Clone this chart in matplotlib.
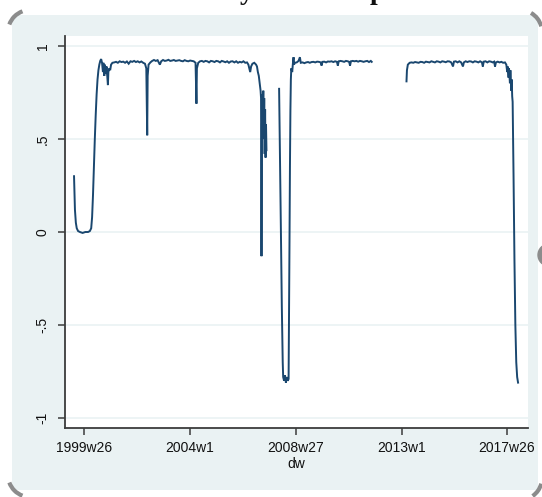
"""Weekly correlation series (Stata-style line plot, s2color look)."""
import matplotlib
matplotlib.use("Agg")
import matplotlib.pyplot as plt
import numpy as np
from matplotlib.patches import Arc, Circle, Rectangle

# Stata s2color palette
P = {
    "region": "#eaf2f3", "plot": "#ffffff", "grid": "#eaf2f3",
    "line": "#1a476f", "axis": "#3c3c3c", "ink": "#111111", "frame": "#8c8c8c",
}

# x = Stata weekly date (weeks since 1960w1); three runs separated by gaps
wk1 = [2031, 2032, 2033, 2035, 2037, 2040, 2044, 2050, 2056, 2062, 2066, 2069,
       2071, 2073, 2075, 2077, 2079, 2081, 2083, 2085, 2087, 2089, 2091, 2093,
       2095, 2096, 2098, 2099, 2101, 2103, 2105, 2106, 2107, 2109, 2111, 2113,
       2116, 2120, 2124, 2128, 2132, 2136, 2140, 2144, 2148, 2152, 2156, 2160,
       2164, 2168, 2172, 2176, 2180, 2184, 2188, 2191, 2193, 2194, 2196, 2200,
       2204, 2208, 2212, 2216, 2220, 2221, 2224, 2228, 2232, 2236, 2240, 2244,
       2248, 2252, 2256, 2260, 2264, 2268, 2272, 2276, 2280, 2284, 2288, 2292,
       2296, 2300, 2302, 2303, 2306, 2310, 2314, 2318, 2322, 2326, 2330, 2334,
       2338, 2342, 2346, 2350, 2354, 2358, 2362, 2366, 2370, 2374, 2378, 2382,
       2386, 2390, 2394, 2398, 2402, 2406, 2410, 2414, 2417, 2419, 2421, 2423,
       2426, 2430, 2434, 2436, 2438, 2440, 2442, 2444, 2445, 2446, 2447, 2448,
       2449, 2450, 2451, 2452, 2453, 2454, 2455, 2456, 2457]
r1 = [0.30, 0.20, 0.12, 0.05, 0.02, 0.005, 0.0, -0.005, 0.0, 0.0, 0.005, 0.02,
      0.08, 0.20, 0.35, 0.50, 0.63, 0.74, 0.82, 0.87, 0.90, 0.92, 0.93, 0.91,
      0.86, 0.91, 0.84, 0.90, 0.85, 0.89, 0.82, 0.79, 0.86, 0.88, 0.87, 0.90,
      0.91, 0.912, 0.915, 0.91, 0.918, 0.914, 0.916, 0.91, 0.917, 0.905, 0.918,
      0.915, 0.92, 0.914, 0.918, 0.912, 0.917, 0.91, 0.905, 0.88, 0.52, 0.84,
      0.90, 0.912, 0.92, 0.925, 0.92, 0.924, 0.905, 0.90, 0.918, 0.925, 0.92,
      0.922, 0.926, 0.92, 0.922, 0.925, 0.92, 0.922, 0.924, 0.92, 0.918, 0.924,
      0.92, 0.918, 0.922, 0.92, 0.918, 0.91, 0.69, 0.88, 0.91, 0.918, 0.92,
      0.915, 0.92, 0.918, 0.912, 0.92, 0.918, 0.914, 0.92, 0.918, 0.912, 0.92,
      0.917, 0.913, 0.918, 0.91, 0.917, 0.918, 0.912, 0.918, 0.91, 0.915, 0.912,
      0.918, 0.91, 0.912, 0.90, 0.88, 0.86, 0.89, 0.905, 0.91, 0.90, 0.89, 0.86,
      0.84, 0.80, 0.76, 0.72, -0.13, 0.58, 0.74, 0.62, 0.76, 0.50, 0.72, 0.42,
      0.66, 0.40, 0.58, 0.44]

wk2 = [2485, 2487, 2489, 2491, 2493, 2494, 2496, 2498, 2500, 2502, 2504, 2506,
       2507, 2508, 2509, 2510, 2511, 2512, 2514, 2516, 2517, 2518, 2520, 2524,
       2528, 2531, 2533, 2537, 2541, 2545, 2549, 2553, 2557, 2561, 2565, 2569,
       2573, 2577, 2579, 2581, 2585, 2589, 2593, 2597, 2601, 2605, 2609, 2613,
       2615, 2617, 2621, 2625, 2629, 2633, 2637, 2640, 2642, 2644, 2648, 2652,
       2656, 2660, 2664, 2668, 2672, 2676, 2680, 2684, 2688, 2690]
r2 = [0.77, 0.40, 0.0, -0.40, -0.70, -0.78, -0.80, -0.77, -0.81, -0.78, -0.80,
      -0.79, -0.45, -0.05, 0.35, 0.65, 0.82, 0.88, 0.86, 0.92, 0.94, 0.90, 0.91,
      0.912, 0.92, 0.94, 0.91, 0.912, 0.908, 0.912, 0.914, 0.91, 0.914, 0.915,
      0.912, 0.916, 0.915, 0.912, 0.895, 0.915, 0.916, 0.912, 0.917, 0.916,
      0.918, 0.914, 0.918, 0.915, 0.895, 0.918, 0.92, 0.918, 0.915, 0.92,
      0.918, 0.915, 0.895, 0.918, 0.92, 0.918, 0.92, 0.916, 0.92, 0.918, 0.915,
      0.918, 0.92, 0.914, 0.92, 0.915]

wk3 = [2767, 2768, 2770, 2774, 2778, 2782, 2786, 2790, 2794, 2798, 2802, 2806,
       2810, 2814, 2818, 2822, 2826, 2830, 2834, 2838, 2842, 2846, 2850, 2854,
       2858, 2862, 2866, 2870, 2872, 2876, 2880, 2884, 2888, 2892, 2894, 2898,
       2902, 2906, 2910, 2914, 2918, 2922, 2926, 2930, 2934, 2936, 2938, 2942,
       2946, 2950, 2954, 2958, 2961, 2963, 2965, 2969, 2973, 2977, 2981, 2985,
       2988, 2990, 2991, 2993, 2994, 2996, 2997, 2999, 3000, 3001, 3002, 3004,
       3006, 3008, 3010, 3012, 3014]
r3 = [0.81, 0.87, 0.90, 0.91, 0.912, 0.91, 0.914, 0.912, 0.91, 0.915, 0.914,
      0.91, 0.916, 0.914, 0.912, 0.918, 0.915, 0.912, 0.918, 0.916, 0.912,
      0.918, 0.916, 0.913, 0.918, 0.917, 0.912, 0.89, 0.916, 0.918, 0.912,
      0.918, 0.912, 0.89, 0.912, 0.918, 0.914, 0.918, 0.917, 0.912, 0.918,
      0.916, 0.912, 0.918, 0.912, 0.89, 0.916, 0.918, 0.912, 0.918, 0.916,
      0.912, 0.916, 0.89, 0.912, 0.916, 0.912, 0.915, 0.91, 0.912, 0.90, 0.86,
      0.89, 0.83, 0.88, 0.80, 0.87, 0.76, 0.82, 0.73, 0.70, 0.30, -0.15, -0.50,
      -0.70, -0.78, -0.81]

xtick_labels = ["1999w26", "2004w1", "2008w27", "2013w1", "2017w26"]
ytick_vals = [-1, -0.5, 0, 0.5, 1]
ytick_labels = ["-1", "-.5", "0", ".5", "1"]


def stata_week(s):
    y, w = s.split("w")
    return (int(y) - 1960) * 52 + int(w) - 1


# join runs with NaN so the line breaks where data is missing
x = np.concatenate([wk1, [np.nan], wk2, [np.nan], wk3])
y = np.concatenate([r1, [np.nan], r2, [np.nan], r3])

W, H = 542, 497
fig = plt.figure(figsize=(W / 100, H / 100), dpi=100)
fig.patch.set_facecolor("white")

# background layer in pixel coords (graph region + screenshot frame bits)
bg = fig.add_axes([0, 0, 1, 1], zorder=-1)
bg.set_xlim(0, W)
bg.set_ylim(H, 0)
bg.axis("off")
bg.add_patch(Rectangle((12, 15), 526, 475, facecolor=P["region"],
                       edgecolor="none"))
for c, th in [((30, 32), (200, 250)), ((30, 475), (110, 160)),
              ((520, 32), (300, 345)), ((520, 478), (15, 55))]:
    bg.add_patch(Arc(c, 44, 44, theta1=th[0], theta2=th[1],
                     color=P["frame"], lw=3))
bg.add_patch(Circle((549, 255), 11, color=P["frame"]))

# cut-off title: only the descenders show at the top edge
for px, ch in [(247, "y"), (377, "p")]:
    fig.text(px / W, 1.0 + 1 / H, ch, ha="center", va="baseline",
             fontsize=20, fontweight="bold", family="Liberation Serif",
             color=P["ink"])

ax = fig.add_axes([65 / W, 1 - 428 / H, (528 - 65) / W, (428 - 36) / H])
ax.set_facecolor(P["plot"])
ax.plot(x, y, color=P["line"], lw=1.4, solid_joinstyle="miter")

ax.set_xlim(2011, 3036)
ax.set_ylim(-1.054, 1.054)
ax.set_xticks([stata_week(s) for s in xtick_labels], xtick_labels)
ax.set_yticks(ytick_vals, ytick_labels)
ax.grid(axis="y", color=P["grid"], lw=1.2)
ax.set_axisbelow(True)

for s in ("top", "right"):
    ax.spines[s].set_visible(False)
for s in ("left", "bottom"):
    ax.spines[s].set_color(P["axis"])
    ax.spines[s].set_linewidth(1.3)
ax.tick_params(axis="both", colors=P["axis"], length=5, width=1.1,
               labelcolor=P["ink"], labelsize=10)
ax.tick_params(axis="x", pad=4)
ax.tick_params(axis="y", pad=6)
for lab in ax.get_yticklabels():
    lab.set_rotation(90)
    lab.set_va("center")
for lab in ax.get_xticklabels() + ax.get_yticklabels():
    lab.set_family("Liberation Sans")

ax.set_xlabel("dw", fontsize=10, family="Liberation Sans", color=P["ink"],
              labelpad=2)

fig.savefig("out.png", dpi=100, facecolor="white")
